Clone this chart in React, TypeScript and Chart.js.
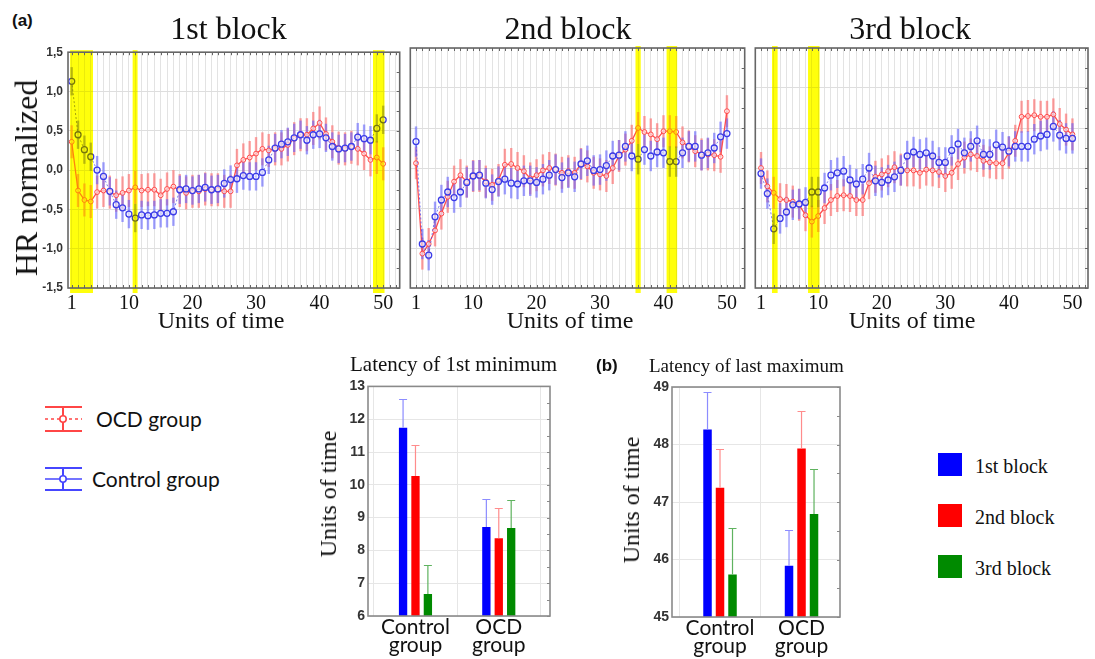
import React, { useEffect, useRef } from 'react';
import { Chart, registerables } from 'chart.js';
Chart.register(...registerables);

// ---------------- DATA ----------------
const timeUnits = Array.from({ length: 50 }, (_, i) => i + 1);
const xTickLabels = [1, 10, 20, 30, 40, 50];
const yTickValues = [-1.5, -1, -0.5, 0, 0.5, 1, 1.5];
const yTickLabels = ['-1,5', '-1,0', '-0,5', '0,0', '0,5', '1,0', '1,5'];
const blockTitles = ['1st block', '2nd block', '3rd block'];

const ocd1 = [0.36, -0.26, -0.38, -0.40, -0.28, -0.26, -0.28, -0.32, -0.29, -0.26, -0.22, -0.26, -0.25, -0.25, -0.32, -0.24, -0.21, -0.26, -0.29, -0.27, -0.27, -0.24, -0.25, -0.25, -0.27, -0.27, 0.06, 0.13, 0.16, 0.21, 0.27, 0.25, 0.27, 0.27, 0.32, 0.40, 0.45, 0.45, 0.53, 0.60, 0.46, 0.36, 0.28, 0.27, 0.29, 0.27, 0.21, 0.13, 0.16, 0.08];
const ctrl1 = [1.13, 0.45, 0.26, 0.17, 0.00, -0.08, -0.27, -0.44, -0.48, -0.56, -0.61, -0.57, -0.58, -0.57, -0.55, -0.55, -0.53, -0.25, -0.24, -0.26, -0.24, -0.22, -0.25, -0.24, -0.17, -0.12, -0.11, -0.07, -0.08, -0.08, -0.03, 0.13, 0.28, 0.33, 0.36, 0.41, 0.45, 0.38, 0.45, 0.46, 0.41, 0.30, 0.27, 0.28, 0.30, 0.42, 0.40, 0.38, 0.53, 0.64];
const ocd2 = [0.06, -1.07, -0.95, -0.78, -0.57, -0.36, -0.17, -0.09, -0.17, -0.10, -0.10, -0.17, -0.21, -0.15, 0.04, 0.05, 0.00, -0.04, -0.13, -0.09, -0.03, 0.00, -0.02, -0.06, -0.04, -0.06, 0.05, 0.02, -0.06, -0.08, -0.10, 0.00, 0.15, 0.23, 0.34, 0.50, 0.45, 0.42, 0.36, 0.46, 0.46, 0.45, 0.32, 0.27, 0.21, 0.17, 0.17, 0.16, 0.14, 0.71];
const ctrl2 = [0.33, -0.95, -1.09, -0.61, -0.40, -0.30, -0.37, -0.30, -0.18, -0.10, -0.09, -0.19, -0.27, -0.17, -0.14, -0.19, -0.20, -0.16, -0.16, -0.18, -0.14, -0.09, -0.02, -0.12, -0.06, -0.11, 0.05, 0.09, -0.03, -0.02, 0.03, 0.15, 0.16, 0.27, 0.15, 0.11, 0.23, 0.15, 0.20, 0.19, 0.08, 0.08, 0.19, 0.27, 0.27, 0.16, 0.19, 0.25, 0.39, 0.43];
const ocd3 = [0.00, -0.23, -0.31, -0.39, -0.40, -0.42, -0.46, -0.59, -0.67, -0.60, -0.50, -0.40, -0.35, -0.34, -0.35, -0.40, -0.40, -0.19, -0.11, -0.08, -0.04, 0.01, -0.02, -0.03, -0.03, -0.06, -0.02, -0.03, -0.05, -0.10, -0.06, 0.05, 0.13, 0.17, 0.15, 0.09, 0.07, 0.06, 0.06, 0.19, 0.34, 0.64, 0.65, 0.66, 0.64, 0.64, 0.67, 0.55, 0.48, 0.42];
const ctrl3 = [-0.07, -0.32, -0.76, -0.63, -0.55, -0.46, -0.45, -0.43, -0.30, -0.30, -0.25, -0.09, -0.06, -0.04, -0.15, -0.20, -0.14, 0.00, -0.16, -0.18, -0.15, -0.11, -0.03, 0.15, 0.20, 0.17, 0.19, 0.15, 0.07, 0.07, 0.22, 0.30, 0.19, 0.27, 0.34, 0.17, 0.17, 0.29, 0.26, 0.21, 0.27, 0.27, 0.27, 0.36, 0.40, 0.42, 0.52, 0.41, 0.37, 0.37];

// error half-widths (approx. constant per block)
const ocdErr = [0.21, 0.2, 0.2];
const ctrlErr = [0.18, 0.19, 0.19];

// highlighted (significant) ranges in units of time
const bands1 = [[0.75, 4.35], [10.6, 11.35], [48.4, 50.2]];
const bands2 = [[35.6, 36.4], [40.5, 42.15]];
const bands3 = [[2.73, 3.6], [8.4, 10.2]];

// bar charts
const groupLabels = [['Control', 'group'], ['OCD', 'group']];
const blockLegend = ['1st block', '2nd block', '3rd block'];
const minLatency1 = [11.74, 8.71];
const minLatency2 = [10.27, 8.37];
const minLatency3 = [6.67, 8.68];
const minLatencyErr1 = [0.89, 0.87];
const minLatencyErr2 = [0.94, 0.92];
const minLatencyErr3 = [0.88, 0.86];
const maxLatency1 = [48.26, 45.89];
const maxLatency2 = [47.25, 47.93];
const maxLatency3 = [45.74, 46.79];
const maxLatencyErr1 = [0.65, 0.63];
const maxLatencyErr2 = [0.68, 0.65];
const maxLatencyErr3 = [0.8, 0.78];

// ---------------- STYLE / LAYOUT ----------------
const SERIF = '"Liberation Serif", "Times New Roman", serif';
const SANS = '"Liberation Sans", Arial, sans-serif';
const CAL = 'Lato, "Noto Sans", sans-serif';

const OCD_SERIES = [ocd1, ocd2, ocd3];
const CTRL_SERIES = [ctrl1, ctrl2, ctrl3];
const BANDS = [bands1, bands2, bands3];

const LINE_LAYOUT = [
  { left: 0, top: 40, width: 405, height: 300, pad: { left: 0, right: 5, top: 8, bottom: 0 }, yWidth: 68, xHeight: 52, xMin: 0.42, xMax: 52.6 },
  { left: 405, top: 40, width: 345, height: 300, pad: { left: 5, right: 5, top: 8, bottom: 0 }, yWidth: 0, xHeight: 52, xMin: 0.1, xMax: 52.8 },
  { left: 750, top: 40, width: 345, height: 300, pad: { left: 5, right: 7, top: 8, bottom: 0 }, yWidth: 0, xHeight: 52, xMin: 0.1, xMax: 52.45 },
];

const BAR_COLORS = ['#0000ff', '#ff0000', '#008a00'];
const ERR_COLORS = ['#8c8cff', '#ff8c8c', '#5fb35f'];

function errorBarsLine(errs: number[], colors: string[]) {
  return {
    id: 'errorBarsLine',
    beforeDatasetsDraw(chart: any) {
      const { ctx } = chart;
      const x = chart.scales.x, y = chart.scales.y;
      ctx.save();
      ctx.lineWidth = 2.4;
      for (let di = chart.data.datasets.length - 1; di >= 0; di--) {
        const ds = chart.data.datasets[di];
        ctx.strokeStyle = colors[di];
        ds.data.forEach((p: any) => {
          const px = x.getPixelForValue(p.x);
          ctx.beginPath();
          ctx.moveTo(px, y.getPixelForValue(p.y + errs[di]));
          ctx.lineTo(px, y.getPixelForValue(p.y - errs[di]));
          ctx.stroke();
        });
      }
      ctx.restore();
    },
  };
}

function bandsPlugin(bands: number[][]) {
  return {
    id: 'bands',
    afterDatasetsDraw(chart: any) {
      const { ctx, chartArea: a } = chart;
      const x = chart.scales.x;
      ctx.save();
      bands.forEach((b) => {
        const x0 = x.getPixelForValue(b[0]);
        const x1 = x.getPixelForValue(b[1]);
        ctx.globalCompositeOperation = 'multiply';
        ctx.fillStyle = '#ffff00';
        ctx.fillRect(x0, a.top - 2, x1 - x0, a.bottom - a.top + 7);
        ctx.globalCompositeOperation = 'source-over';
        ctx.fillStyle = 'rgba(255,255,40,0.3)';
        ctx.fillRect(x0, a.top - 2, x1 - x0, a.bottom - a.top + 7);
      });
      ctx.restore();
    },
  };
}

function framePlugin(color: string, xMinor: boolean, yMinorStep: number) {
  return {
    id: 'frame',
    afterDraw(chart: any) {
      const { ctx, chartArea: a } = chart;
      const x = chart.scales.x, y = chart.scales.y;
      ctx.save();
      ctx.strokeStyle = color;
      ctx.lineWidth = 1;
      ctx.beginPath();
      if (xMinor) {
        x.ticks.forEach((t: any) => {
          const px = Math.round(x.getPixelForValue(t.value)) + 0.5;
          ctx.moveTo(px, a.top);
          ctx.lineTo(px, a.top + 3);
          ctx.moveTo(px, a.bottom);
          ctx.lineTo(px, a.bottom - 3);
        });
      }
      if (yMinorStep > 0) {
        for (let v = y.min; v <= y.max + 1e-9; v += yMinorStep) {
          const py = Math.round(y.getPixelForValue(v)) + 0.5;
          ctx.moveTo(a.right, py);
          ctx.lineTo(a.right - 3, py);
        }
      }
      ctx.stroke();
      ctx.lineWidth = 1.6;
      ctx.strokeRect(a.left, a.top, a.right - a.left, a.bottom - a.top);
      ctx.restore();
    },
  };
}

function lineConfig(b: number): any {
  const L = LINE_LAYOUT[b];
  const toPts = (arr: number[]) => arr.map((v, i) => ({ x: timeUnits[i], y: v }));
  const gridUnits: number[] = [];
  for (let v = Math.ceil(L.xMin); v <= L.xMax; v++) gridUnits.push(v);
  return {
    type: 'line',
    data: {
      datasets: [
        {
          label: 'Control group', data: toPts(CTRL_SERIES[b]),
          borderColor: 'rgba(70,70,235,0.7)', borderWidth: 1, borderDash: [2, 2],
          pointRadius: 3, pointBorderWidth: 1.3, pointBorderColor: '#3c3ce8',
          pointBackgroundColor: 'rgba(255,255,255,0.6)',
        },
        {
          label: 'OCD group', data: toPts(OCD_SERIES[b]),
          borderColor: 'rgba(255,70,70,0.95)', borderWidth: 1.3,
          pointRadius: 2.4, pointBorderWidth: 1, pointBorderColor: '#ff4a4a',
          pointBackgroundColor: 'rgba(255,255,255,0.6)',
        },
      ],
    },
    options: {
      responsive: false, animation: false, devicePixelRatio: 1,
      layout: { padding: L.pad },
      plugins: { legend: { display: false }, tooltip: { enabled: false } },
      scales: {
        x: {
          type: 'linear', min: L.xMin, max: L.xMax,
          afterBuildTicks: (ax: any) => { ax.ticks = gridUnits.map((v) => ({ value: v })); },
          afterFit: (ax: any) => { ax.height = L.xHeight; },
          ticks: {
            autoSkip: false, maxRotation: 0, padding: 4, color: '#111',
            font: { family: SERIF, size: 20 },
            callback: (v: any) => (xTickLabels.includes(v) ? String(v) : ''),
          },
          grid: { color: '#e3e3e3', drawTicks: false },
          border: { display: false },
        },
        y: {
          type: 'linear', min: -1.5, max: 1.5,
          afterBuildTicks: (ax: any) => { ax.ticks = yTickValues.map((v) => ({ value: v })); },
          afterFit: (ax: any) => { ax.width = L.yWidth; },
          ticks: {
            display: b === 0, padding: 5, color: '#333',
            font: { family: SANS, size: 12, weight: 'bold' },
            callback: (_v: any, i: number) => yTickLabels[i],
          },
          grid: { color: '#dedede', drawTicks: false },
          border: { display: false },
        },
      },
    },
    plugins: [
      errorBarsLine([ctrlErr[b], ocdErr[b]], ['rgba(95,95,255,0.58)', 'rgba(255,95,95,0.58)']),
      bandsPlugin(BANDS[b]),
      framePlugin('#666', true, 0.25),
    ],
  };
}

function errorBarsBar(errs: number[][]) {
  return {
    id: 'errorBarsBar',
    afterDatasetsDraw(chart: any) {
      const { ctx } = chart;
      const y = chart.scales.y;
      ctx.save();
      ctx.lineWidth = 1.2;
      chart.data.datasets.forEach((ds: any, di: number) => {
        const meta = chart.getDatasetMeta(di);
        ctx.strokeStyle = ERR_COLORS[di];
        meta.data.forEach((el: any, i: number) => {
          const v = ds.data[i].y;
          const y0 = y.getPixelForValue(v);
          const y1 = Math.round(y.getPixelForValue(v + errs[di][i])) + 0.5;
          ctx.beginPath();
          ctx.moveTo(el.x, y0);
          ctx.lineTo(el.x, y1);
          ctx.moveTo(el.x - 4, y1);
          ctx.lineTo(el.x + 4, y1);
          ctx.stroke();
        });
      });
      ctx.restore();
    },
  };
}

type BarSpec = {
  left: number; top: number; width: number; height: number;
  pad: any; yWidth: number; xHeight: number; xMin: number; xMax: number;
  yMin: number; yMax: number; catPct: number; barPct: number;
  values: number[][]; errs: number[][];
};

const BAR_SPECS: BarSpec[] = [
  {
    left: 338, top: 375, width: 222, height: 284, pad: { left: 0, right: 10, top: 10, bottom: 0 },
    yWidth: 30, xHeight: 43, xMin: 0.43, xMax: 2.615, yMin: 6, yMax: 13, catPct: 0.447, barPct: 0.67,
    values: [minLatency1, minLatency2, minLatency3], errs: [minLatencyErr1, minLatencyErr2, minLatencyErr3],
  },
  {
    left: 638, top: 375, width: 212, height: 284, pad: { left: 0, right: 10, top: 12, bottom: 0 },
    yWidth: 34, xHeight: 42, xMin: 0.411, xMax: 2.472, yMin: 45, yMax: 49, catPct: 0.46, barPct: 0.68,
    values: [maxLatency1, maxLatency2, maxLatency3], errs: [maxLatencyErr1, maxLatencyErr2, maxLatencyErr3],
  },
];

function barConfig(s: BarSpec): any {
  const groupX = [1, 2];
  const yTicks: number[] = [];
  for (let v = s.yMin; v <= s.yMax; v++) yTicks.push(v);
  return {
    type: 'bar',
    data: {
      datasets: s.values.map((vals, di) => ({
        label: blockLegend[di],
        data: vals.map((v, i) => ({ x: groupX[i], y: v })),
        backgroundColor: BAR_COLORS[di],
        borderWidth: 0,
        categoryPercentage: s.catPct,
        barPercentage: s.barPct,
      })),
    },
    options: {
      responsive: false, animation: false, devicePixelRatio: 1,
      layout: { padding: s.pad },
      plugins: { legend: { display: false }, tooltip: { enabled: false } },
      scales: {
        x: {
          type: 'linear', min: s.xMin, max: s.xMax, offset: false,
          afterBuildTicks: (ax: any) => { ax.ticks = groupX.map((v) => ({ value: v })); },
          afterFit: (ax: any) => { ax.height = s.xHeight; },
          ticks: {
            autoSkip: false, maxRotation: 0, padding: 2, color: '#111',
            font: { family: CAL, size: 21, lineHeight: 0.88 },
            callback: (_v: any, i: number) => groupLabels[i],
          },
          grid: { color: '#e6e6e6', drawTicks: false },
          border: { display: false },
        },
        y: {
          type: 'linear', min: s.yMin, max: s.yMax,
          afterBuildTicks: (ax: any) => { ax.ticks = yTicks.map((v) => ({ value: v })); },
          afterFit: (ax: any) => { ax.width = s.yWidth; },
          ticks: { padding: 3, color: '#333', font: { family: SANS, size: 14, weight: 'bold' } },
          grid: { color: '#e6e6e6', drawTicks: false },
          border: { display: false },
        },
      },
    },
    plugins: [errorBarsBar(s.errs), framePlugin('#8a8a8a', false, 0.5)],
  };
}

function ChartCanvas({ config, left, top, width, height }: any) {
  const ref = useRef<HTMLCanvasElement | null>(null);
  useEffect(() => {
    if (!ref.current) return;
    const chart = new Chart(ref.current, config());
    return () => chart.destroy();
  }, []);
  return (
    <canvas ref={ref} width={width} height={height}
      style={{ position: 'absolute', left, top, width, height }} />
  );
}

function Txt({ children, x, baseline, size, family, weight, anchor = 'middle', color = '#111', asc = 0.8375 }: any) {
  const tx = anchor === 'middle' ? 'translateX(-50%)' : 'none';
  return (
    <div style={{
      position: 'absolute', left: x, top: baseline - asc * size, fontSize: size, lineHeight: `${size}px`,
      fontFamily: family, fontWeight: weight || 'normal', whiteSpace: 'nowrap', color, transform: tx,
    }}>{children}</div>
  );
}

function VTxt({ children, cx, cy, size, family }: any) {
  return (
    <div style={{
      position: 'absolute', left: cx, top: cy, fontSize: size, lineHeight: `${size}px`,
      fontFamily: family, whiteSpace: 'nowrap', color: '#111',
      transform: 'translate(-50%, -50%) rotate(-90deg)',
    }}>{children}</div>
  );
}

export default function App() {
  const titleX = [228.5, 568, 910];
  const unitsX = [221, 570, 912];
  return (
    <div style={{ position: 'absolute', left: 0, top: 0, width: 1095, height: 659, background: '#fff', overflow: 'hidden' }}>
      {LINE_LAYOUT.map((L, b) => (
        <ChartCanvas key={'l' + b} config={() => lineConfig(b)} left={L.left} top={L.top} width={L.width} height={L.height} />
      ))}
      {BAR_SPECS.map((s, i) => (
        <ChartCanvas key={'b' + i} config={() => barConfig(s)} left={s.left} top={s.top} width={s.width} height={s.height} />
      ))}

      <Txt x={12} baseline={26} size={17} family={SANS} weight="bold" anchor="start" asc={0.8465}>(a)</Txt>
      {blockTitles.map((t, i) => (
        <Txt key={t} x={titleX[i]} baseline={39} size={32} family={SERIF}>{t}</Txt>
      ))}
      {unitsX.map((x, i) => (
        <Txt key={'u' + i} x={x} baseline={328} size={24} family={SERIF}>Units of time</Txt>
      ))}
      <VTxt cx={26} cy={178} size={32} family={SERIF}>HR normalized</VTxt>

      <Txt x={350} baseline={372} size={21} family={SERIF} anchor="start">Latency of 1st minimum</Txt>
      <Txt x={596} baseline={371} size={17} family={SANS} weight="bold" anchor="start" asc={0.8465}>(b)</Txt>
      <Txt x={649} baseline={372} size={19} family={SERIF} anchor="start">Latency of last maximum</Txt>
      <VTxt cx={328} cy={494} size={24} family={SERIF}>Units of time</VTxt>
      <VTxt cx={631} cy={500} size={24} family={SERIF}>Units of time</VTxt>

      {blockLegend.map((t, i) => (
        <React.Fragment key={t}>
          <div style={{ position: 'absolute', left: 938, top: 453 + i * 51, width: 24, height: 23, background: BAR_COLORS[i] }} />
          <Txt x={975} baseline={473 + i * 51} size={20} family={SERIF} anchor="start">{t}</Txt>
        </React.Fragment>
      ))}

      <svg style={{ position: 'absolute', left: 40, top: 400 }} width={50} height={100}>
        <g stroke="#ff4646" strokeWidth={2} fill="none">
          <line x1={5} y1={7} x2={42} y2={7} />
          <line x1={5} y1={31} x2={42} y2={31} />
          <line x1={23} y1={7} x2={23} y2={31} />
          <line x1={5} y1={19} x2={42} y2={19} strokeDasharray="3 3" strokeWidth={1.4} />
          <circle cx={23} cy={19} r={3.2} fill="#fff" strokeWidth={1.6} />
        </g>
        <g stroke="#4646ff" strokeWidth={2} fill="none">
          <line x1={5} y1={68} x2={42} y2={68} />
          <line x1={5} y1={90} x2={42} y2={90} />
          <line x1={23} y1={68} x2={23} y2={90} />
          <line x1={5} y1={79} x2={42} y2={79} strokeWidth={1.6} />
          <circle cx={23} cy={79} r={3.2} fill="#fff" strokeWidth={1.6} />
        </g>
      </svg>
      <Txt x={96} baseline={427} size={21} family={CAL} anchor="start" asc={0.887}>OCD group</Txt>
      <Txt x={92} baseline={487} size={21} family={CAL} anchor="start" asc={0.887}>Control group</Txt>
    </div>
  );
}
